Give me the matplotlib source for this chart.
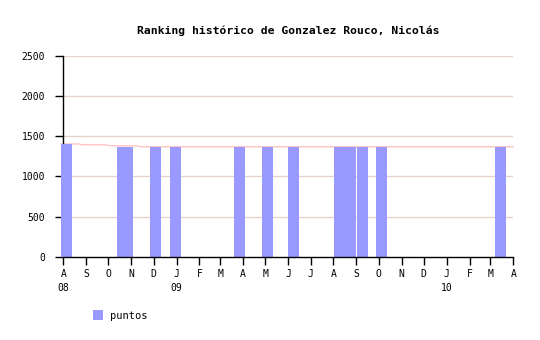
import matplotlib
matplotlib.use("Agg")
import matplotlib.pyplot as plt
import matplotlib.dates as mdates
from datetime import datetime

# Datos
fechas_barras = ["2008-08-05", "2008-10-20", "2008-10-27", "2008-12-04", "2008-12-31",
                 "2009-03-27", "2009-05-04", "2009-06-08", "2009-08-09", "2009-08-16",
                 "2009-08-24", "2009-09-09", "2009-10-05", "2010-03-15"]
puntos = [1400, 1370, 1370, 1370, 1370, 1370, 1370, 1370, 1370, 1370, 1370, 1370, 1370, 1370]

fechas_linea = ["2008-07-29", "2008-08-23", "2008-08-25", "2008-09-30", "2008-10-02",
                "2008-11-10", "2008-11-12", "2010-04-01"]
valores_linea = [1405, 1403, 1395, 1392, 1383, 1381, 1370, 1370]

meses = ["A", "S", "O", "N", "D", "J", "F", "M", "A", "M", "J", "J", "A", "S", "O", "N",
         "D", "J", "F", "M", "A"]
anios = {"2008-08": "08", "2009-01": "09", "2010-01": "10"}

fuente = "DejaVu Sans Mono"

fig = plt.figure(figsize=(5.4, 3.4), dpi=100)
ax = fig.add_axes([63.3 / 540, 1 - 256.7 / 340, 450 / 540, 200.7 / 340])

x_barras = mdates.date2num([datetime.strptime(f, "%Y-%m-%d") for f in fechas_barras])
x_linea = mdates.date2num([datetime.strptime(f, "%Y-%m-%d") for f in fechas_linea])

# Rejilla horizontal
for v in [500, 1000, 1500, 2000, 2500]:
    ax.axhline(v, color="#e6d4cc", lw=1, zorder=1)

ax.plot(x_linea, valores_linea, color="#ffc4c4", lw=1, zorder=2, clip_on=False)
barras = ax.bar(x_barras, puntos, width=15, color="#9999ff", zorder=3, antialiased=False,
                label="puntos")
for b in barras:
    b.set_clip_on(False)

inicio = mdates.date2num(datetime(2008, 8, 1))
fin = mdates.date2num(datetime(2010, 4, 1))
ax.set_xlim(inicio, fin)
ax.set_ylim(0, 2500)

# Ticks de meses
ticks = []
etiquetas = []
anio, mes = 2008, 8
for m in meses:
    ticks.append(mdates.date2num(datetime(anio, mes, 1)))
    clave = f"{anio}-{mes:02d}"
    etiquetas.append(m + ("\n" + anios[clave] if clave in anios else ""))
    mes += 1
    if mes > 12:
        mes, anio = 1, anio + 1
ax.set_xticks(ticks)
ax.set_xticklabels(etiquetas, fontfamily=fuente, fontsize=7, linespacing=1.45,
                   va="top")
ax.set_yticks([0, 500, 1000, 1500, 2000, 2500])
ax.set_yticklabels(["0", "500", "1000", "1500", "2000", "2500"], fontfamily=fuente,
                   fontsize=7)
ax.tick_params(axis="both", direction="out", length=6, width=1, color="black")
ax.tick_params(axis="x", pad=3)
ax.tick_params(axis="y", pad=7)

for lado in ["top", "right"]:
    ax.spines[lado].set_visible(False)
ax.spines["left"].set_linewidth(1)
ax.spines["left"].set_zorder(2.5)
ax.spines["bottom"].set_linewidth(1)
ax.spines["bottom"].set_zorder(4)

fig.text(288 / 540, 1 - 30.7 / 340, "Ranking histórico de Gonzalez Rouco, Nicolás",
         ha="center", va="center", fontfamily=fuente, fontsize=8.2, fontweight="bold")

fig.legend(loc="center left", bbox_to_anchor=(84 / 540, 1 - 315.5 / 340), frameon=False,
           prop={"family": fuente, "size": 7.5}, handlelength=0.9, handleheight=1.1,
           handletextpad=0.7)

fig.savefig("out.png", dpi=100)
